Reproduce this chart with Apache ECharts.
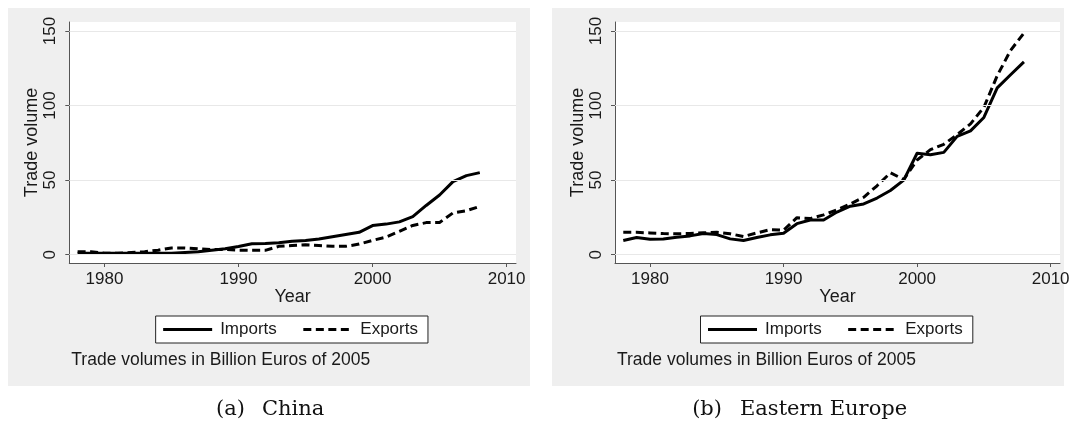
<!DOCTYPE html>
<html>
<head>
<meta charset="utf-8">
<script src="https://cdn.jsdelivr.net/npm/echarts@6/dist/echarts.min.js"></script>
<style>
html,body{margin:0;padding:0;background:#fff;}
#chart{width:1073px;height:430px;}
</style>
</head>
<body>
<div id="chart"></div>
<script>
// ---- data ----
const years = [1978,1979,1980,1981,1982,1983,1984,1985,1986,1987,1988,1989,1990,1991,1992,1993,1994,1995,1996,1997,1998,1999,2000,2001,2002,2003,2004,2005,2006,2007,2008];
const chinaImports = [1,1,1,1,1,1,1,1,1.5,2,3,4,5.5,7.3,7.5,8,9,9.5,10.5,12,13.5,15,19.5,20.5,22,25.5,33,40,49,53,55];
const chinaExports = [2,2,1,1,1.5,2,3,4.5,4.5,4,3.5,3.5,3,2.9,2.9,5.6,6.2,6.7,6.2,5.6,5.6,7.1,9.6,11.8,15.6,19.6,21.5,21.6,28,29.5,32.4];
const eeImports = [9.5,11.5,10.3,10.5,11.7,12.6,14.2,13.5,10.6,9.5,11.5,13.3,14.4,20.8,23.3,23.3,28.6,32.5,34,38,43,50,68,67,68.6,79.3,83,92,111.8,120.6,129.3];
const eeExports = [15,15,14.6,14.2,14,14.2,14.7,15.1,14,12.2,14.6,16.8,16.4,24.8,24.2,26.7,30,34,38.5,46.2,54.9,50.4,63.5,70.4,74,80.5,87.7,98.8,120,137,148.6];
const xTicks = [1980,1990,2000,2010];
const yTicks = [0,50,100,150];
const seriesNames = ['Imports','Exports'];
const xTitle = 'Year';
const yTitle = 'Trade volume';
const noteText = 'Trade volumes in Billion Euros of 2005';
const captions = [['(a)','China'],['(b)','Eastern Europe']];

const pair = (xs, ys) => xs.map((x,i)=>[x, ys[i]]);

const FONT = '"Liberation Sans", Arial, sans-serif';
const TXT = '#1a1a1a';
const AXC = '#555';
const GRIDC = '#e8e8e8';

const panels = [
  {gray:[8,8,522,378], grid:{left:69.3, top:22, width:446.7, height:241}, imp:chinaImports, exp:chinaExports},
  {gray:[552,8,512,378], grid:{left:615, top:22, width:445, height:241}, imp:eeImports, exp:eeExports}
];

const option = {
  backgroundColor:'#fff',
  animation:false,
  grid: panels.map(p=>({left:p.grid.left, top:p.grid.top, width:p.grid.width, height:p.grid.height, show:true, backgroundColor:'#fff', borderWidth:0, containLabel:false})),
  xAxis: panels.map((p,i)=>({
    type:'value', gridIndex:i, min:1977.38, max:2010.7,
    axisLine:{show:true, onZero:false, lineStyle:{color:AXC, width:1}},
    axisTick:{show:true, length:4, customValues:xTicks, lineStyle:{color:AXC, width:1}},
    axisLabel:{customValues:xTicks, formatter:v=>String(v), margin:8, fontFamily:FONT, fontSize:17, color:TXT},
    splitLine:{show:false}
  })),
  yAxis: panels.map((p,i)=>({
    type:'value', gridIndex:i, min:-5.57, max:156.0,
    axisLine:{show:true, onZero:false, lineStyle:{color:AXC, width:1}},
    axisTick:{show:true, length:4, customValues:yTicks, lineStyle:{color:AXC, width:1}},
    axisLabel:{customValues:yTicks, rotate:90, formatter:v=>String(v), margin:10, fontFamily:FONT, fontSize:17, color:TXT},
    splitLine:{show:false}
  })),
  legend: panels.map((p,i)=>{
    const cx = p.grid.left + p.grid.width/2;
    return {
      data: seriesNames,
      left: cx - 137, top: 316,
      orient:'horizontal',
      itemWidth:49, itemHeight:14, itemGap:25,
      padding:[5,10,5,6],
      borderColor:'#222', borderWidth:1, backgroundColor:'#fff', borderRadius:0,
      selectedMode:false,
      itemStyle:{opacity:0},
      lineStyle:{width:3},
      textStyle:{fontFamily:FONT, fontSize:17, color:TXT, padding:[0,0,0,3]}
    };
  }),
  series: [],
  graphic: []
};

panels.forEach((p,i)=>{
  option.series.push({
    type:'line', name:'grid'+i, xAxisIndex:i, yAxisIndex:i, data:[], z:1, silent:true,
    markLine:{silent:true, symbol:'none', label:{show:false}, animation:false,
      lineStyle:{color:GRIDC, type:'solid', width:1},
      data: yTicks.map(v=>({yAxis:v}))}
  });
  option.series.push({
    type:'line', name:seriesNames[0], xAxisIndex:i, yAxisIndex:i, data:pair(years,p.imp),
    symbol:'none', showSymbol:false, z:3, silent:true,
    lineStyle:{color:'#000', width:3, type:'solid', join:'round'}, itemStyle:{color:'#000'}
  });
  option.series.push({
    type:'line', name:seriesNames[1], xAxisIndex:i, yAxisIndex:i, data:pair(years,p.exp),
    symbol:'none', showSymbol:false, z:3, silent:true,
    lineStyle:{color:'#000', width:3, type:[8,4.5], cap:'butt'}, itemStyle:{color:'#000'}
  });
  const g = p.gray;
  option.graphic.push({type:'rect', z:-10, silent:true, shape:{x:g[0], y:g[1], width:g[2], height:g[3]}, style:{fill:'#efefef'}});
  const cx = p.grid.left + p.grid.width/2;
  option.graphic.push({type:'text', z:10, silent:true, x:cx, y:297, style:{text:xTitle, font:'18px '+FONT, fill:TXT, textAlign:'center', textVerticalAlign:'middle'}});
  option.graphic.push({type:'text', z:10, silent:true, x:p.grid.left-37, y:p.grid.top+p.grid.height/2, rotation:Math.PI/2,
    style:{text:yTitle, font:'18px '+FONT, fill:TXT, textAlign:'center', textVerticalAlign:'middle'}});
  option.graphic.push({type:'text', z:10, silent:true, x:p.grid.left+2, y:360, style:{text:noteText, font:'17.5px '+FONT, fill:TXT, textAlign:'left', textVerticalAlign:'middle'}});
});

// captions
const capPos = [[245,262],[722,740]];
captions.forEach((c,i)=>{
  option.graphic.push({type:'text', silent:true, x:capPos[i][0], y:410, style:{text:c[0], font:'21px "DejaVu Serif", serif', fill:'#111', textAlign:'right', textVerticalAlign:'middle'}});
  option.graphic.push({type:'text', silent:true, x:capPos[i][1], y:410, style:{text:c[1], font:'21px "DejaVu Serif", serif', fill:'#111', textAlign:'left', textVerticalAlign:'middle'}});
});

const chart = echarts.init(document.getElementById('chart'), null, {renderer:'canvas'});
chart.setOption(option);
</script>
</body>
</html>
